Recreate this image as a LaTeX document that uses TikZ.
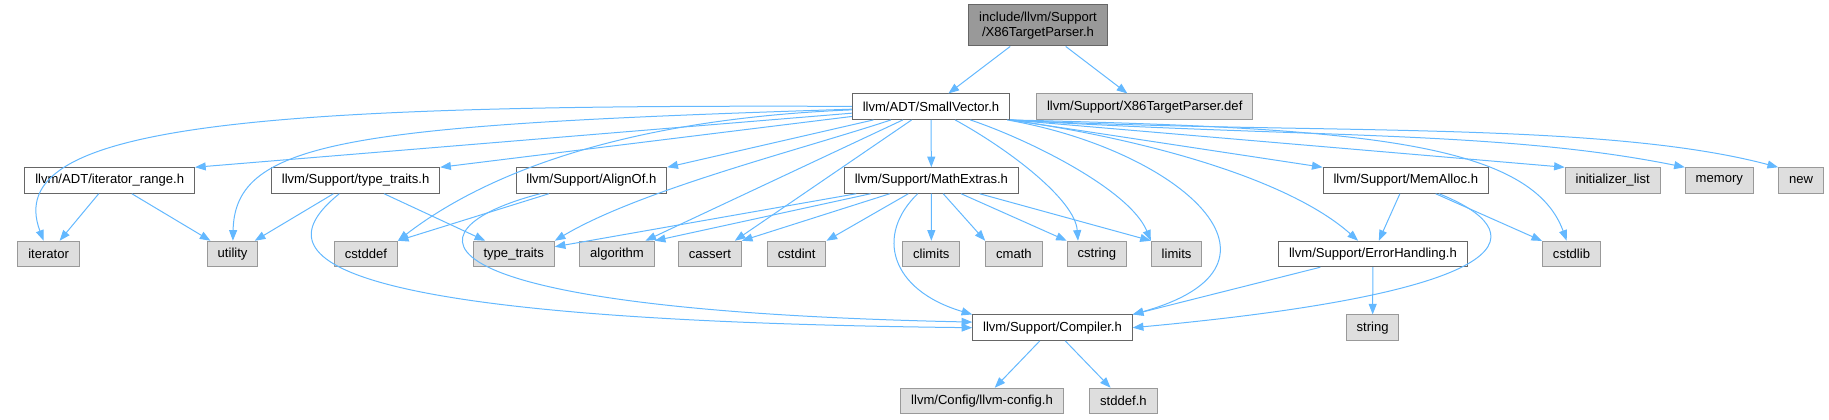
\documentclass[tikz,border=0pt]{standalone}
\usepackage{fontspec}
\setmainfont{Liberation Sans}
\usepackage{tikz}
\usepackage{xcolor}
\usetikzlibrary{arrows.meta}
\definecolor{edgeblue}{HTML}{63B8FF}
\definecolor{nodeborder}{HTML}{666666}
\definecolor{sysborder}{HTML}{999999}
\definecolor{sysfill}{HTML}{DEDEDE}
\definecolor{rootfill}{HTML}{999999}

\begin{document}
\begin{tikzpicture}[x=0.75pt, y=-0.75pt,
  every node/.style={font=\fontsize{9.8}{11.25}\selectfont, inner xsep=7.8pt, inner ysep=2pt, minimum height=19.1pt, line width=0.75pt},
  filebox/.style={draw=nodeborder, fill=white},
  sysbox/.style={draw=sysborder, fill=sysfill},
  rootbox/.style={draw=nodeborder, fill=rootfill, align=center, minimum height=31pt},
  dep/.style={draw=edgeblue, line width=0.75pt, -{Triangle[length=8pt, width=6pt]}}]
  \useasboundingbox (0,0) rectangle (1829,420);

  \node[rootbox] (root) at (1038,25.3) {include/llvm/Support\\/X86TargetParser.h};
  \node[filebox] (svec) at (931,106.7) {llvm/ADT/SmallVector.h};
  \node[sysbox] (tpdef) at (1144.7,106.7) {llvm/Support/X86TargetParser.def};

  \node[filebox] (itrange) at (109.7,180.5) {llvm/ADT/iterator\_range.h};
  \node[filebox] (sptraits) at (355.6,180.5) {llvm/Support/type\_traits.h};
  \node[filebox] (alignof) at (591.4,180.5) {llvm/Support/AlignOf.h};
  \node[filebox] (mathx) at (931.4,180.5) {llvm/Support/MathExtras.h};
  \node[filebox] (memalloc) at (1405.8,180.5) {llvm/Support/MemAlloc.h};
  \node[sysbox] (initlist) at (1612.7,180.5) {initializer\_list};
  \node[sysbox] (memory) at (1719.3,180.5) {memory};
  \node[sysbox] (new) at (1801,180.5) {new};

  \node[sysbox] (iterator) at (48.6,254) {iterator};
  \node[sysbox] (utility) at (232.6,254) {utility};
  \node[sysbox] (cstddef) at (365.9,254) {cstddef};
  \node[sysbox] (typetraits) at (513.7,254) {type\_traits};
  \node[sysbox] (algorithm) at (617,254) {algorithm};
  \node[sysbox] (cassert) at (709.9,254) {cassert};
  \node[sysbox] (cstdint) at (796.7,254) {cstdint};
  \node[sysbox] (climits) at (931.3,254) {climits};
  \node[sysbox] (cmath) at (1013.9,254) {cmath};
  \node[sysbox] (cstring) at (1096.9,254) {cstring};
  \node[sysbox] (limits) at (1176.6,254) {limits};
  \node[filebox] (errhand) at (1372.9,254) {llvm/Support/ErrorHandling.h};
  \node[sysbox] (cstdlib) at (1571.5,254) {cstdlib};

  \node[filebox] (compiler) at (1052.5,327.7) {llvm/Support/Compiler.h};
  \node[sysbox] (string) at (1372.6,327.7) {string};
  \node[sysbox] (llvmconfig) at (982,401) {llvm/Config/llvm-config.h};
  \node[sysbox] (stddef) at (1123.4,401) {stddef.h};

  \foreach \a/\b in {root/svec, root/tpdef, svec/itrange.north east, svec/sptraits.north east,
    svec/alignof.north east, svec/algorithm.25, svec/cassert.28, svec/mathx,
    svec.south east/memalloc.north west, svec.south east/initlist.north west,
    itrange/iterator, itrange/utility, sptraits/utility, sptraits/typetraits,
    alignof/cstddef.north east, mathx/typetraits.10, mathx/algorithm.north east,
    mathx/cassert.north east, mathx/cstdint.north east, mathx/climits, mathx/cmath.north west,
    mathx/cstring.north west, mathx/limits.north west, memalloc/errhand, memalloc/cstdlib,
    errhand/compiler.north east, errhand/string, compiler/llvmconfig, compiler/stddef}
    \draw[dep] (\a) -- (\b);

  \draw[dep] (svec) .. controls (250,104) and (0,125) .. (iterator);
  \draw[dep] (svec) .. controls (350,125) and (235,140) .. (utility);
  \draw[dep] (svec) .. controls (600,120) and (470,185) .. (cstddef.north east);
  \draw[dep] (svec) .. controls (800,150) and (640,190) .. (typetraits.north east);
  \draw[dep] (svec) .. controls (1010,150) and (1075,200) .. (cstring.145);
  \draw[dep] (svec) .. controls (1030,140) and (1130,190) .. (limits.north west);
  \draw[dep] (svec) .. controls (1180,150) and (1310,265) .. (compiler.north east);
  \draw[dep] (svec.south east) .. controls (1150,140) and (1290,180) .. (errhand);
  \draw[dep] (svec.south east) .. controls (1350,128) and (1530,140) .. (cstdlib);
  \draw[dep] (svec.south east) .. controls (1300,138) and (1500,130) .. (memory.north west);
  \draw[dep] (svec.south east) .. controls (1300,135) and (1600,120) .. (new.north west);
  \draw[dep] (sptraits) .. controls (270,250) and (280,320) .. (compiler.west);
  \draw[dep] (alignof) .. controls (400,230) and (400,310) .. (compiler.176);
  \draw[dep] (mathx) .. controls (875,235) and (890,290) .. (compiler.north west);
  \draw[dep] (memalloc) .. controls (1530,230) and (1540,290) .. (compiler.east);
\end{tikzpicture}
\end{document}
